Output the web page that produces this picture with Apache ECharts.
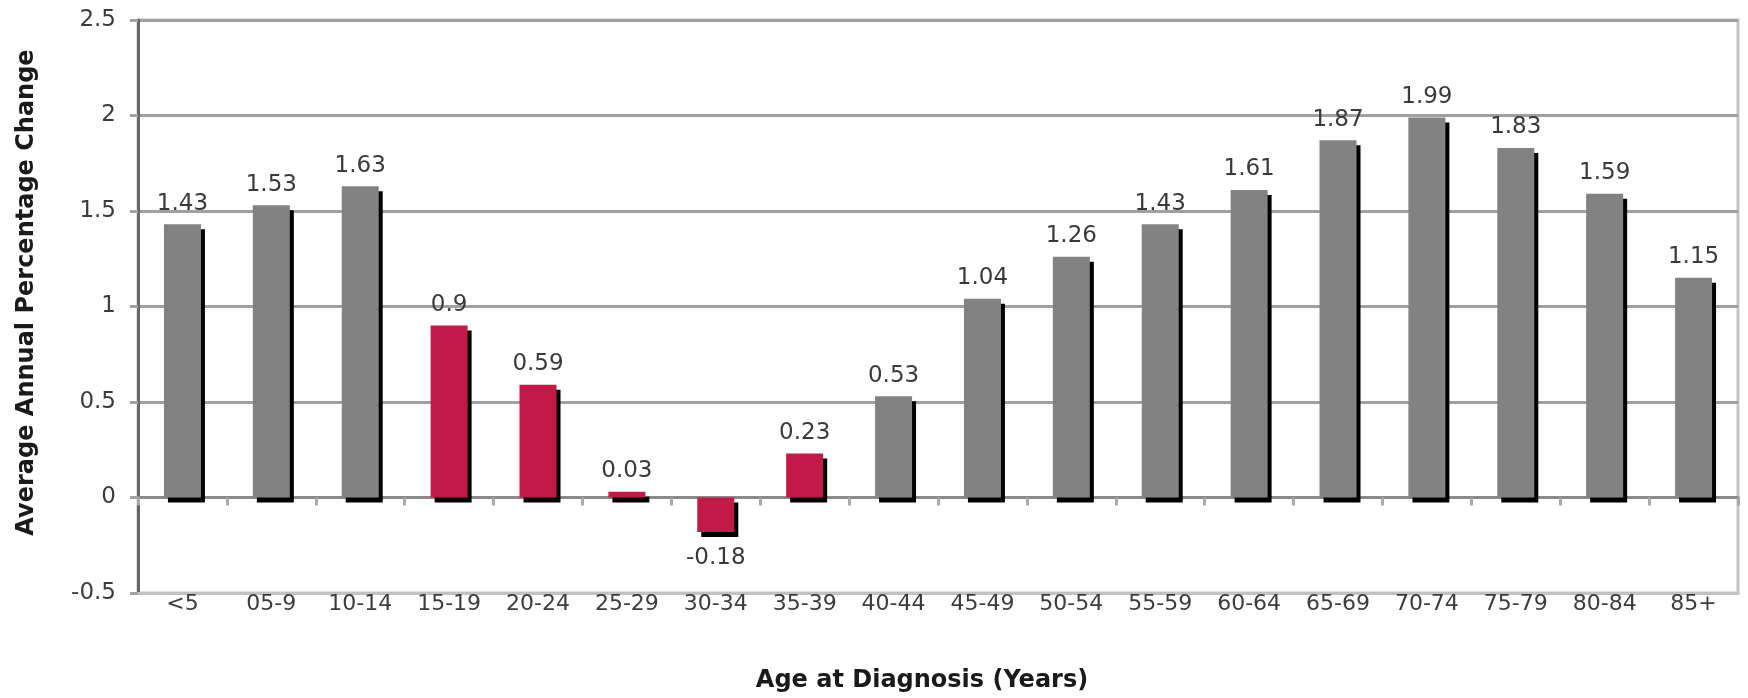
<!DOCTYPE html>
<html>
<head>
<meta charset="utf-8">
<style>
  html, body { margin: 0; padding: 0; background: #fff; }
  #chart { width: 1748px; height: 698px; }
</style>
<script src="https://cdn.jsdelivr.net/npm/echarts@6/dist/echarts.min.js"></script>
</head>
<body>
<div id="chart"></div>
<script>
// Age groups along the x axis
const categories = ['<5', '05-9', '10-14', '15-19', '20-24', '25-29', '30-34', '35-39', '40-44',
  '45-49', '50-54', '55-59', '60-64', '65-69', '70-74', '75-79', '80-84', '85+'];

// Average annual percentage change per age group
const apcValues = [1.43, 1.53, 1.63, 0.9, 0.59, 0.03, -0.18, 0.23, 0.53,
  1.04, 1.26, 1.43, 1.61, 1.87, 1.99, 1.83, 1.59, 1.15];

// Age groups drawn in the accent colour
const highlightedGroups = ['15-19', '20-24', '25-29', '30-34', '35-39'];

// Value axis ticks
const yTicks = [-0.5, 0, 0.5, 1, 1.5, 2, 2.5];

const FONT = '"DejaVu Sans", Verdana, sans-serif';
const GRAY = '#828282';
const RED = '#c11a47';

const barData = categories.map((cat, i) => {
  const v = apcValues[i];
  return {
    value: v,
    itemStyle: { color: highlightedGroups.includes(cat) ? RED : GRAY },
    label: v < 0 ? { position: 'bottom', distance: 15 } : { position: 'top', distance: 9 }
  };
});

const chart = echarts.init(document.getElementById('chart'), null, { renderer: 'canvas' });

chart.setOption({
  animation: false,
  backgroundColor: '#ffffff',
  grid: {
    left: 138, right: 10, top: 20, bottom: 105,
    show: true, borderColor: '#c4c4c4', borderWidth: 3, backgroundColor: 'transparent'
  },
  xAxis: [
    {
      // bottom axis carrying the category labels and the title
      type: 'category',
      data: categories,
      position: 'bottom',
      axisLine: { onZero: false, lineStyle: { color: '#c2c2c2', width: 3 } },
      axisTick: { show: false },
      axisLabel: { color: '#3c3c3c', fontFamily: FONT, fontSize: 22, margin: 0, interval: 0 },
      name: 'Age at Diagnosis (Years)',
      nameLocation: 'middle',
      nameGap: 76,
      nameTextStyle: {
        color: '#1a1a1a', fontFamily: FONT, fontSize: 24, fontWeight: 'bold',
        padding: [0, 32, 0, 0]
      }
    },
    {
      // baseline at zero with ticks between groups
      type: 'category',
      data: categories,
      position: 'bottom',
      axisLine: { onZero: true, lineStyle: { color: '#8a8a8a', width: 3 } },
      axisTick: { show: true, length: 8, lineStyle: { color: '#a8a8a8', width: 3 } },
      axisLabel: { show: false }
    }
  ],
  yAxis: {
    type: 'value',
    min: yTicks[0],
    max: yTicks[yTicks.length - 1],
    interval: yTicks[1] - yTicks[0],
    axisLine: { show: true, lineStyle: { color: '#666666', width: 3 } },
    axisTick: { show: true, length: 8, lineStyle: { color: '#a3a3a3', width: 3 } },
    axisLabel: { color: '#3c3c3c', fontFamily: FONT, fontSize: 23, margin: 22 },
    splitLine: {
      show: true,
      lineStyle: {
        color: ['#c4c4c4', '#8a8a8a', '#a0a0a0', '#a0a0a0', '#a0a0a0', '#a0a0a0', '#a0a0a0'],
        width: 3
      }
    },
    name: 'Average Annual Percentage Change',
    nameLocation: 'middle',
    nameGap: 99,
    nameTextStyle: {
      color: '#1a1a1a', fontFamily: FONT, fontSize: 24, fontWeight: 'bold',
      padding: [0, 0, 0, 28]
    }
  },
  series: [{
    type: 'bar',
    xAxisIndex: 0,
    data: barData,
    barWidth: 37,
    itemStyle: {
      shadowColor: '#000000',
      shadowBlur: 0,
      shadowOffsetX: 4,
      shadowOffsetY: 5
    },
    label: {
      show: true,
      color: '#3a3a3a',
      fontFamily: FONT,
      fontSize: 23
    }
  }]
});
</script>
</body>
</html>
